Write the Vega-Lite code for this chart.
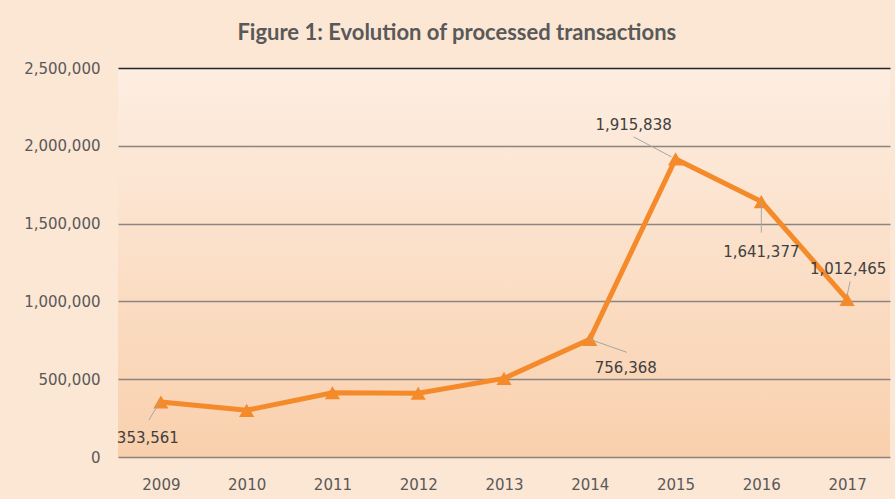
{
  "$schema": "https://vega.github.io/schema/vega-lite/v6.json",
  "width": 895,
  "height": 499,
  "autosize": {"type": "fit", "contains": "padding"},
  "padding": {"left": 23, "top": 22, "right": 5, "bottom": 7},
  "background": "#fce6d4",
  "title": {
    "text": "Figure 1: Evolution of processed transactions",
    "font": "Lato",
    "fontSize": 22,
    "fontWeight": "bold",
    "color": "#595959",
    "anchor": "middle",
    "frame": "bounds",
    "offset": 16
  },
  "config": {
    "view": {
      "stroke": null,
      "fill": {
        "gradient": "linear",
        "x1": 0, "y1": 0, "x2": 0, "y2": 1,
        "stops": [
          {"offset": 0, "color": "#fdeee2"},
          {"offset": 1, "color": "#f9d0ad"}
        ]
      }
    },
    "axis": {
      "labelFont": "DejaVu Sans",
      "labelFontSize": 15,
      "labelColor": "#595959",
      "domain": false,
      "ticks": false,
      "tickSize": 0,
      "title": null
    }
  },
  "data": {
    "values": [
      {"year": "2009", "value": 353561},
      {"year": "2010", "value": 300000},
      {"year": "2011", "value": 413000},
      {"year": "2012", "value": 410000},
      {"year": "2013", "value": 505000},
      {"year": "2014", "value": 756368},
      {"year": "2015", "value": 1915838},
      {"year": "2016", "value": 1641377},
      {"year": "2017", "value": 1012465}
    ]
  },
  "encoding": {
    "x": {
      "field": "year",
      "type": "ordinal",
      "scale": {"type": "point", "padding": 0.5},
      "axis": {"labelAngle": 0, "labelPadding": 20, "grid": false}
    },
    "y": {
      "field": "value",
      "type": "quantitative",
      "scale": {"domain": [0, 2500000], "nice": false},
      "axis": {
        "values": [0, 500000, 1000000, 1500000, 2000000, 2500000],
        "format": ",d",
        "labelPadding": 18,
        "grid": true,
        "gridWidth": 1.3,
        "gridColor": {"condition": {"test": "datum.value === 2500000", "value": "#262626"}, "value": "#8c8480"}
      }
    }
  },
  "layer": [
    {
      "mark": {"type": "line", "color": "#f58a2a", "strokeWidth": 5}
    },
    {
      "mark": {"type": "point", "shape": "triangle-up", "filled": true, "size": 230, "color": "#f58a2a", "opacity": 1}
    },
    {
      "transform": [{"filter": "datum.year === '2009'"}],
      "layer": [
        {"mark": {"type": "rule", "color": "#a6a6a6", "strokeWidth": 1, "xOffset": -1, "x2Offset": -12, "y2Offset": 18},
         "encoding": {"x2": {"field": "year"}, "y2": {"field": "value"}}},
        {"mark": {"type": "text", "font": "DejaVu Sans", "fontSize": 15, "color": "#404040", "dx": -13, "dy": 36},
         "encoding": {"text": {"field": "value", "format": ",d"}}}
      ]
    },
    {
      "transform": [{"filter": "datum.year === '2014'"}],
      "layer": [
        {"mark": {"type": "rule", "color": "#a6a6a6", "strokeWidth": 1, "x2Offset": 37, "y2Offset": 13},
         "encoding": {"x2": {"field": "year"}, "y2": {"field": "value"}}},
        {"mark": {"type": "text", "font": "DejaVu Sans", "fontSize": 15, "color": "#404040", "dx": 36, "dy": 29},
         "encoding": {"text": {"field": "value", "format": ",d"}}}
      ]
    },
    {
      "transform": [{"filter": "datum.year === '2015'"}],
      "layer": [
        {"mark": {"type": "rule", "color": "#a6a6a6", "strokeWidth": 1, "xOffset": -4, "yOffset": -2, "x2Offset": -42, "y2Offset": -22},
         "encoding": {"x2": {"field": "year"}, "y2": {"field": "value"}}},
        {"mark": {"type": "text", "font": "DejaVu Sans", "fontSize": 15, "color": "#404040", "dx": -42, "dy": -34},
         "encoding": {"text": {"field": "value", "format": ",d"}}}
      ]
    },
    {
      "transform": [{"filter": "datum.year === '2016'"}],
      "layer": [
        {"mark": {"type": "rule", "color": "#a6a6a6", "strokeWidth": 1, "y2Offset": 31},
         "encoding": {"x2": {"field": "year"}, "y2": {"field": "value"}}},
        {"mark": {"type": "text", "font": "DejaVu Sans", "fontSize": 15, "color": "#404040", "dx": 0, "dy": 50},
         "encoding": {"text": {"field": "value", "format": ",d"}}}
      ]
    },
    {
      "transform": [{"filter": "datum.year === '2017'"}],
      "layer": [
        {"mark": {"type": "rule", "color": "#a6a6a6", "strokeWidth": 1, "yOffset": -4, "x2Offset": 3, "y2Offset": -18},
         "encoding": {"x2": {"field": "year"}, "y2": {"field": "value"}}},
        {"mark": {"type": "text", "font": "DejaVu Sans", "fontSize": 15, "color": "#404040", "dx": 1, "dy": -30},
         "encoding": {"text": {"field": "value", "format": ",d"}}}
      ]
    }
  ]
}
